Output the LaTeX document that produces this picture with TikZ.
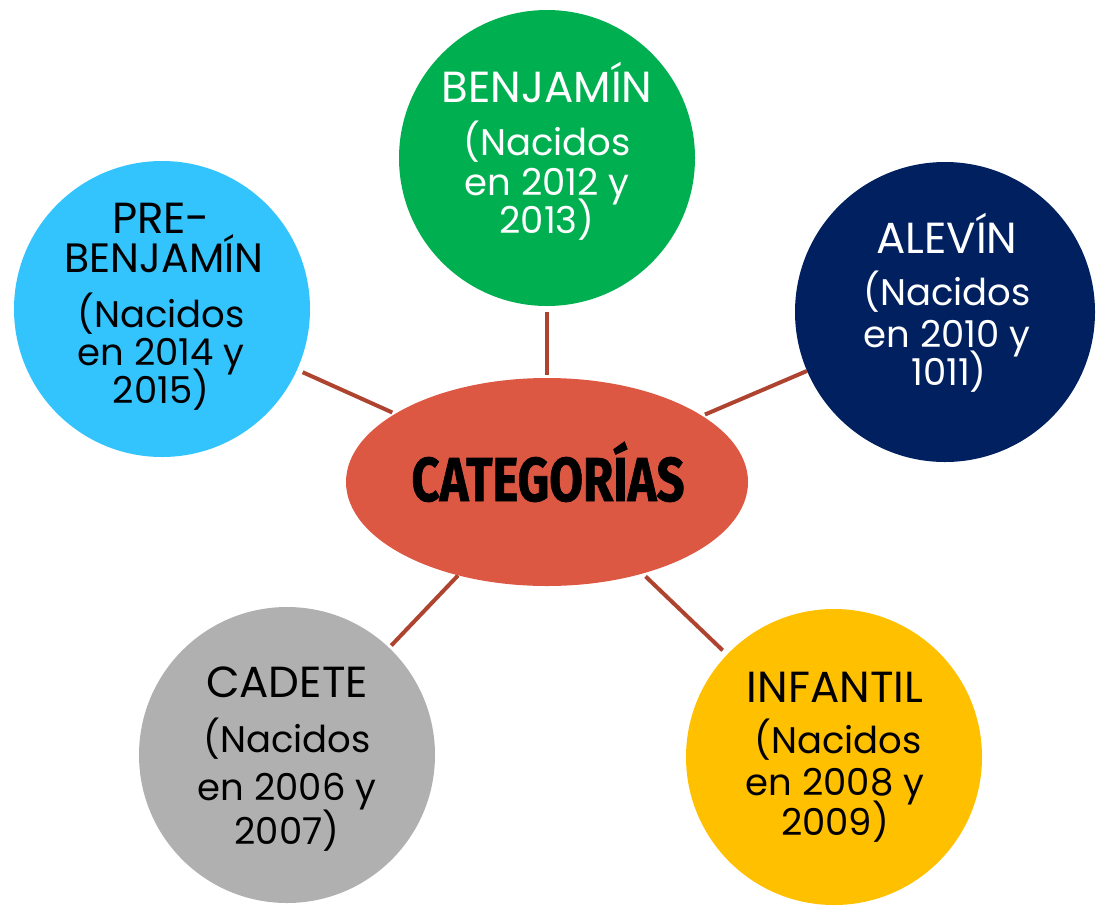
\documentclass[tikz,border=0pt]{standalone}
\usepackage{fontspec}
\setmainfont{Poppins}
\newfontfamily\catfont{Fira Sans}[FakeBold=1.2]
\usetikzlibrary{shapes.geometric,backgrounds}
\definecolor{cgreen}{HTML}{00B050}
\definecolor{cblue}{HTML}{33C4FE}
\definecolor{cnavy}{HTML}{002060}
\definecolor{cgray}{HTML}{B0B0B0}
\definecolor{cyellow}{HTML}{FFC000}
\definecolor{cred}{HTML}{DD5843}
\definecolor{cline}{HTML}{AE4430}
\tikzset{
  ball/.style={circle,inner sep=0pt,draw=none},
  lbl/.style={anchor=base,inner sep=0pt,font=\fontsize{37}{37}\selectfont},
  ttl/.style={anchor=base,inner sep=0pt,font=\fontsize{43.5}{43.5}\selectfont},
  wlbl/.style={lbl,text=white},
  blbl/.style={lbl,text=black},
  wttl/.style={ttl,text=white},
  bttl/.style={ttl,text=black},
  link/.style={draw=cline,line width=4pt}
}
\begin{document}
\begin{tikzpicture}[x=1pt,y=-1pt]
\useasboundingbox (0,0) rectangle (1099,908);
% central ellipse
\node[ellipse,fill=cred,inner sep=0pt,minimum width=402pt,minimum height=208pt] (cat) at (547,482) {};
\node[anchor=base,inner sep=0pt] (cattxt) at (548,501)
  {\scalebox{0.79}[1]{\catfont\bfseries\fontsize{62}{62}\selectfont CATEGORÍAS}};
% circles
\node[ball,fill=cgreen,minimum size=296pt] (benj) at (547,158) {};
\node[ball,fill=cblue,minimum size=296pt] (pre) at (162,309) {};
\node[ball,fill=cnavy,minimum size=300pt] (alev) at (945,312) {};
\node[ball,fill=cgray,minimum size=296pt] (cad) at (287,755) {};
\node[ball,fill=cyellow,minimum size=296pt] (inf) at (834,757) {};
% connectors
\begin{scope}[on background layer]
\draw[link,shorten <=6pt,shorten >=3pt] (benj) -- (cat);
\draw[link,shorten <=6pt,shorten >=3pt] (pre) -- (cat);
\draw[link,shorten <=0pt,shorten >=3pt] (alev) -- (cat);
\draw[link,shorten <=3pt,shorten >=0pt] (cad) -- (cat);
\draw[link,shorten <=6pt,shorten >=4pt] (inf) -- (cat);
\end{scope}
% BENJAMIN
\node[wttl] (b1) at (547,102) {BENJAMÍN};
\node[wlbl] (b2) at (547,155) {(Nacidos};
\node[wlbl] (b3) at (547,195) {en 2012 y};
\node[wlbl] (b4) at (547,233) {2013)};
% PRE-BENJAMIN
\node[bttl] (p1) at (161,233) {PRE-};
\node[bttl,font=\fontsize{41}{41}\selectfont] (p2) at (164,272) {BENJAMÍN};
\node[blbl] (p3) at (161,327) {(Nacidos};
\node[blbl] (p4) at (161,365) {en 2014 y};
\node[blbl] (p5) at (161,403) {2015)};
% ALEVIN
\node[wttl] (a1) at (947,253) {ALEVÍN};
\node[wlbl] (a2) at (947,305) {(Nacidos};
\node[wlbl] (a3) at (947,347) {en 2010 y};
\node[wlbl] (a4) at (949,385) {1011)};
% CADETE
\node[bttl] (c1) at (287,697) {CADETE};
\node[blbl] (c2) at (287,752) {(Nacidos};
\node[blbl] (c3) at (287,800) {en 2006 y};
\node[blbl] (c4) at (287,844) {2007)};
% INFANTIL
\node[bttl] (i1) at (835,702) {INFANTIL};
\node[blbl] (i2) at (838,753) {(Nacidos};
\node[blbl] (i3) at (835,795) {en 2008 y};
\node[blbl] (i4) at (835,835) {2009)};
\end{tikzpicture}
\end{document}
